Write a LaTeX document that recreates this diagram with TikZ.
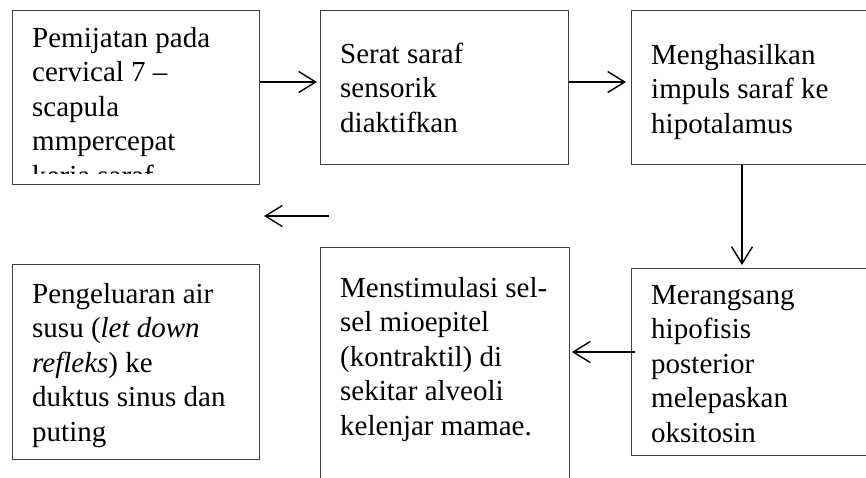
\documentclass[tikz,border=0pt]{standalone}
\usepackage{fontspec}
\setmainfont{Liberation Serif}
\usetikzlibrary{arrows.meta}
\tikzset{
  box/.style={draw=black!75, line width=0.9pt, inner sep=0pt, anchor=north west},
  txt/.style={anchor=base west, inner sep=0pt},
  arr/.style={draw=black, line width=1.4pt, -{Straight Barb[length=17pt,width=21pt,line width=1.4pt]}},
}
\newcommand{\boxtext}[1]{\parbox[t]{240pt}{\fontsize{29}{34.5}\selectfont\raggedright #1}}
\begin{document}
\begin{tikzpicture}[x=1pt,y=-1pt]
\clip (0,0) rectangle (866,477);
\fill[white] (0,0) rectangle (866,477);
% boxes
\node[box, minimum width=247pt, minimum height=174pt] (b1) at (12,10) {};
\node[box, minimum width=248pt, minimum height=154pt] (b2) at (320,10) {};
\node[box, minimum width=260pt, minimum height=154pt] (b3) at (631,10) {};
\node[box, minimum width=247pt, minimum height=195pt] (b4) at (12,264) {};
\node[box, minimum width=249pt, minimum height=260pt] (b5) at (320,247) {};
\node[box, minimum width=260pt, minimum height=187pt] (b6) at (631,268) {};
% texts
\begin{scope}
\clip (12,10) rectangle (259,173);
\node[txt] (t1) at (32,47) {\boxtext{Pemijatan pada\\cervical 7 --\\scapula\\mmpercepat\\kerja saraf}};
\end{scope}
\node[txt] (t2) at (340,63) {\boxtext{Serat saraf\\sensorik\\diaktifkan}};
\node[txt] (t3) at (651,64) {\boxtext{Menghasilkan\\impuls saraf ke\\hipotalamus}};
\node[txt] (t4) at (32,303) {\boxtext{Pengeluaran air\\susu (\textit{let down}\\\textit{refleks}) ke\\duktus sinus dan\\puting}};
\node[txt] (t5) at (340,297) {\boxtext{Menstimulasi sel-\\sel mioepitel\\(kontraktil) di\\sekitar alveoli\\kelenjar mamae.}};
\node[txt] (t6) at (651,304) {\boxtext{Merangsang\\hipofisis\\posterior\\melepaskan\\oksitosin}};
% connectors
\coordinate (r1) at (0,82);
\coordinate (r2) at (0,352);
\coordinate (c3) at (742,0);
\coordinate (fs) at (329,216);
\coordinate (fe) at (264,216);
\draw[arr, shorten >=3pt] (b1.east |- r1) -- (b2.west |- r1);
\draw[arr, shorten >=5pt] (b2.east |- r1) -- (b3.west |- r1);
\draw[arr, shorten >=3pt] (c3 |- b3.south) -- (c3 |- b6.north);
\draw[arr, shorten <=-4pt, shorten >=2pt] (b6.west |- r2) -- (b5.east |- r2);
\draw[arr] (fs) -- (fe);
\end{tikzpicture}
\end{document}
